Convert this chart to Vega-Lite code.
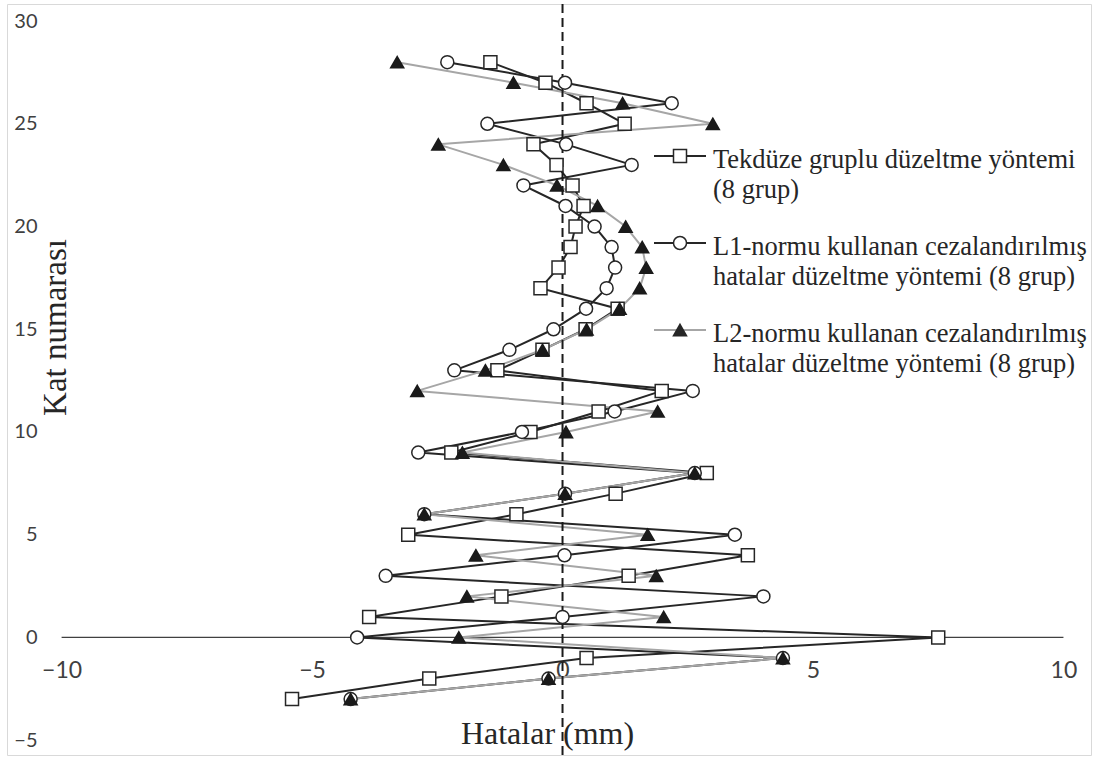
{
  "$schema": "https://vega.github.io/schema/vega-lite/v6.json",
  "width": 1084,
  "height": 751,
  "autosize": {"type": "none"},
  "padding": {"left": 7, "top": 4, "right": 2, "bottom": 5},
  "background": "white",
  "config": {
    "view": {"stroke": "#d9d9d9", "strokeWidth": 1},
    "axis": {"grid": false},
    "legend": {
      "labelFont": "Liberation Serif, Times New Roman, serif", "labelFontSize": 26.5, "labelColor": "#262626", "labelLimit": 600,
      "labelOffset": 6, "labelBaseline": "top", "rowPadding": 12, "padding": 0, "orient": "none",
      "legendX": 646, "legendY": 125, "symbolSize": 2704,
      "symbolBaseFillColor": "white", "symbolBaseStrokeColor": "#262626"
    }
  },
  "data": {"values": [
    {"series": "Tekdüze gruplu düzeltme yöntemi (8 grup)", "y": 28, "x": -1.44},
    {"series": "Tekdüze gruplu düzeltme yöntemi (8 grup)", "y": 27, "x": -0.34},
    {"series": "Tekdüze gruplu düzeltme yöntemi (8 grup)", "y": 26, "x": 0.48},
    {"series": "Tekdüze gruplu düzeltme yöntemi (8 grup)", "y": 25, "x": 1.24},
    {"series": "Tekdüze gruplu düzeltme yöntemi (8 grup)", "y": 24, "x": -0.58},
    {"series": "Tekdüze gruplu düzeltme yöntemi (8 grup)", "y": 23, "x": -0.12},
    {"series": "Tekdüze gruplu düzeltme yöntemi (8 grup)", "y": 22, "x": 0.2},
    {"series": "Tekdüze gruplu düzeltme yöntemi (8 grup)", "y": 21, "x": 0.42},
    {"series": "Tekdüze gruplu düzeltme yöntemi (8 grup)", "y": 20, "x": 0.26},
    {"series": "Tekdüze gruplu düzeltme yöntemi (8 grup)", "y": 19, "x": 0.16},
    {"series": "Tekdüze gruplu düzeltme yöntemi (8 grup)", "y": 18, "x": -0.08},
    {"series": "Tekdüze gruplu düzeltme yöntemi (8 grup)", "y": 17, "x": -0.44},
    {"series": "Tekdüze gruplu düzeltme yöntemi (8 grup)", "y": 16, "x": 1.1},
    {"series": "Tekdüze gruplu düzeltme yöntemi (8 grup)", "y": 15, "x": 0.46},
    {"series": "Tekdüze gruplu düzeltme yöntemi (8 grup)", "y": 14, "x": -0.4},
    {"series": "Tekdüze gruplu düzeltme yöntemi (8 grup)", "y": 13, "x": -1.3},
    {"series": "Tekdüze gruplu düzeltme yöntemi (8 grup)", "y": 12, "x": 1.98},
    {"series": "Tekdüze gruplu düzeltme yöntemi (8 grup)", "y": 11, "x": 0.72},
    {"series": "Tekdüze gruplu düzeltme yöntemi (8 grup)", "y": 10, "x": -0.64},
    {"series": "Tekdüze gruplu düzeltme yöntemi (8 grup)", "y": 9, "x": -2.22},
    {"series": "Tekdüze gruplu düzeltme yöntemi (8 grup)", "y": 8, "x": 2.88},
    {"series": "Tekdüze gruplu düzeltme yöntemi (8 grup)", "y": 7, "x": 1.06},
    {"series": "Tekdüze gruplu düzeltme yöntemi (8 grup)", "y": 6, "x": -0.92},
    {"series": "Tekdüze gruplu düzeltme yöntemi (8 grup)", "y": 5, "x": -3.08},
    {"series": "Tekdüze gruplu düzeltme yöntemi (8 grup)", "y": 4, "x": 3.7},
    {"series": "Tekdüze gruplu düzeltme yöntemi (8 grup)", "y": 3, "x": 1.32},
    {"series": "Tekdüze gruplu düzeltme yöntemi (8 grup)", "y": 2, "x": -1.22},
    {"series": "Tekdüze gruplu düzeltme yöntemi (8 grup)", "y": 1, "x": -3.86},
    {"series": "Tekdüze gruplu düzeltme yöntemi (8 grup)", "y": 0, "x": 7.5},
    {"series": "Tekdüze gruplu düzeltme yöntemi (8 grup)", "y": -1, "x": 0.48},
    {"series": "Tekdüze gruplu düzeltme yöntemi (8 grup)", "y": -2, "x": -2.66},
    {"series": "Tekdüze gruplu düzeltme yöntemi (8 grup)", "y": -3, "x": -5.4},
    {"series": "L1-normu kullanan cezalandırılmış hatalar düzeltme yöntemi (8 grup)", "y": 28, "x": -2.3},
    {"series": "L1-normu kullanan cezalandırılmış hatalar düzeltme yöntemi (8 grup)", "y": 27, "x": 0.05},
    {"series": "L1-normu kullanan cezalandırılmış hatalar düzeltme yöntemi (8 grup)", "y": 26, "x": 2.18},
    {"series": "L1-normu kullanan cezalandırılmış hatalar düzeltme yöntemi (8 grup)", "y": 25, "x": -1.5},
    {"series": "L1-normu kullanan cezalandırılmış hatalar düzeltme yöntemi (8 grup)", "y": 24, "x": 0.07},
    {"series": "L1-normu kullanan cezalandırılmış hatalar düzeltme yöntemi (8 grup)", "y": 23, "x": 1.38},
    {"series": "L1-normu kullanan cezalandırılmış hatalar düzeltme yöntemi (8 grup)", "y": 22, "x": -0.78},
    {"series": "L1-normu kullanan cezalandırılmış hatalar düzeltme yöntemi (8 grup)", "y": 21, "x": 0.06},
    {"series": "L1-normu kullanan cezalandırılmış hatalar düzeltme yöntemi (8 grup)", "y": 20, "x": 0.64},
    {"series": "L1-normu kullanan cezalandırılmış hatalar düzeltme yöntemi (8 grup)", "y": 19, "x": 0.98},
    {"series": "L1-normu kullanan cezalandırılmış hatalar düzeltme yöntemi (8 grup)", "y": 18, "x": 1.05},
    {"series": "L1-normu kullanan cezalandırılmış hatalar düzeltme yöntemi (8 grup)", "y": 17, "x": 0.88},
    {"series": "L1-normu kullanan cezalandırılmış hatalar düzeltme yöntemi (8 grup)", "y": 16, "x": 0.47},
    {"series": "L1-normu kullanan cezalandırılmış hatalar düzeltme yöntemi (8 grup)", "y": 15, "x": -0.18},
    {"series": "L1-normu kullanan cezalandırılmış hatalar düzeltme yöntemi (8 grup)", "y": 14, "x": -1.06},
    {"series": "L1-normu kullanan cezalandırılmış hatalar düzeltme yöntemi (8 grup)", "y": 13, "x": -2.16},
    {"series": "L1-normu kullanan cezalandırılmış hatalar düzeltme yöntemi (8 grup)", "y": 12, "x": 2.6},
    {"series": "L1-normu kullanan cezalandırılmış hatalar düzeltme yöntemi (8 grup)", "y": 11, "x": 1.04},
    {"series": "L1-normu kullanan cezalandırılmış hatalar düzeltme yöntemi (8 grup)", "y": 10, "x": -0.81},
    {"series": "L1-normu kullanan cezalandırılmış hatalar düzeltme yöntemi (8 grup)", "y": 9, "x": -2.88},
    {"series": "L1-normu kullanan cezalandırılmış hatalar düzeltme yöntemi (8 grup)", "y": 8, "x": 2.64},
    {"series": "L1-normu kullanan cezalandırılmış hatalar düzeltme yöntemi (8 grup)", "y": 7, "x": 0.05},
    {"series": "L1-normu kullanan cezalandırılmış hatalar düzeltme yöntemi (8 grup)", "y": 6, "x": -2.76},
    {"series": "L1-normu kullanan cezalandırılmış hatalar düzeltme yöntemi (8 grup)", "y": 5, "x": 3.44},
    {"series": "L1-normu kullanan cezalandırılmış hatalar düzeltme yöntemi (8 grup)", "y": 4, "x": 0.04},
    {"series": "L1-normu kullanan cezalandırılmış hatalar düzeltme yöntemi (8 grup)", "y": 3, "x": -3.53},
    {"series": "L1-normu kullanan cezalandırılmış hatalar düzeltme yöntemi (8 grup)", "y": 2, "x": 4.01},
    {"series": "L1-normu kullanan cezalandırılmış hatalar düzeltme yöntemi (8 grup)", "y": 1, "x": 0.0},
    {"series": "L1-normu kullanan cezalandırılmış hatalar düzeltme yöntemi (8 grup)", "y": 0, "x": -4.1},
    {"series": "L1-normu kullanan cezalandırılmış hatalar düzeltme yöntemi (8 grup)", "y": -1, "x": 4.4},
    {"series": "L1-normu kullanan cezalandırılmış hatalar düzeltme yöntemi (8 grup)", "y": -2, "x": -0.28},
    {"series": "L1-normu kullanan cezalandırılmış hatalar düzeltme yöntemi (8 grup)", "y": -3, "x": -4.23},
    {"series": "L2-normu kullanan cezalandırılmış hatalar düzeltme yöntemi (8 grup)", "y": 28, "x": -3.3},
    {"series": "L2-normu kullanan cezalandırılmış hatalar düzeltme yöntemi (8 grup)", "y": 27, "x": -0.98},
    {"series": "L2-normu kullanan cezalandırılmış hatalar düzeltme yöntemi (8 grup)", "y": 26, "x": 1.2},
    {"series": "L2-normu kullanan cezalandırılmış hatalar düzeltme yöntemi (8 grup)", "y": 25, "x": 3.0},
    {"series": "L2-normu kullanan cezalandırılmış hatalar düzeltme yöntemi (8 grup)", "y": 24, "x": -2.48},
    {"series": "L2-normu kullanan cezalandırılmış hatalar düzeltme yöntemi (8 grup)", "y": 23, "x": -1.18},
    {"series": "L2-normu kullanan cezalandırılmış hatalar düzeltme yöntemi (8 grup)", "y": 22, "x": -0.11},
    {"series": "L2-normu kullanan cezalandırılmış hatalar düzeltme yöntemi (8 grup)", "y": 21, "x": 0.7},
    {"series": "L2-normu kullanan cezalandırılmış hatalar düzeltme yöntemi (8 grup)", "y": 20, "x": 1.26},
    {"series": "L2-normu kullanan cezalandırılmış hatalar düzeltme yöntemi (8 grup)", "y": 19, "x": 1.59},
    {"series": "L2-normu kullanan cezalandırılmış hatalar düzeltme yöntemi (8 grup)", "y": 18, "x": 1.67},
    {"series": "L2-normu kullanan cezalandırılmış hatalar düzeltme yöntemi (8 grup)", "y": 17, "x": 1.54},
    {"series": "L2-normu kullanan cezalandırılmış hatalar düzeltme yöntemi (8 grup)", "y": 16, "x": 1.14},
    {"series": "L2-normu kullanan cezalandırılmış hatalar düzeltme yöntemi (8 grup)", "y": 15, "x": 0.48},
    {"series": "L2-normu kullanan cezalandırılmış hatalar düzeltme yöntemi (8 grup)", "y": 14, "x": -0.4},
    {"series": "L2-normu kullanan cezalandırılmış hatalar düzeltme yöntemi (8 grup)", "y": 13, "x": -1.54},
    {"series": "L2-normu kullanan cezalandırılmış hatalar düzeltme yöntemi (8 grup)", "y": 12, "x": -2.9},
    {"series": "L2-normu kullanan cezalandırılmış hatalar düzeltme yöntemi (8 grup)", "y": 11, "x": 1.9},
    {"series": "L2-normu kullanan cezalandırılmış hatalar düzeltme yöntemi (8 grup)", "y": 10, "x": 0.07},
    {"series": "L2-normu kullanan cezalandırılmış hatalar düzeltme yöntemi (8 grup)", "y": 9, "x": -2.0},
    {"series": "L2-normu kullanan cezalandırılmış hatalar düzeltme yöntemi (8 grup)", "y": 8, "x": 2.64},
    {"series": "L2-normu kullanan cezalandırılmış hatalar düzeltme yöntemi (8 grup)", "y": 7, "x": 0.05},
    {"series": "L2-normu kullanan cezalandırılmış hatalar düzeltme yöntemi (8 grup)", "y": 6, "x": -2.76},
    {"series": "L2-normu kullanan cezalandırılmış hatalar düzeltme yöntemi (8 grup)", "y": 5, "x": 1.7},
    {"series": "L2-normu kullanan cezalandırılmış hatalar düzeltme yöntemi (8 grup)", "y": 4, "x": -1.73},
    {"series": "L2-normu kullanan cezalandırılmış hatalar düzeltme yöntemi (8 grup)", "y": 3, "x": 1.87},
    {"series": "L2-normu kullanan cezalandırılmış hatalar düzeltme yöntemi (8 grup)", "y": 2, "x": -1.91},
    {"series": "L2-normu kullanan cezalandırılmış hatalar düzeltme yöntemi (8 grup)", "y": 1, "x": 2.02},
    {"series": "L2-normu kullanan cezalandırılmış hatalar düzeltme yöntemi (8 grup)", "y": 0, "x": -2.07},
    {"series": "L2-normu kullanan cezalandırılmış hatalar düzeltme yöntemi (8 grup)", "y": -1, "x": 4.4},
    {"series": "L2-normu kullanan cezalandırılmış hatalar düzeltme yöntemi (8 grup)", "y": -2, "x": -0.28},
    {"series": "L2-normu kullanan cezalandırılmış hatalar düzeltme yöntemi (8 grup)", "y": -3, "x": -4.23}
  ]},
  "layer": [
    {
      "data": {"values": [{}]},
      "mark": {"type": "rule", "color": "#404040", "strokeWidth": 1.3},
      "encoding": {
        "x": {"datum": -10, "type": "quantitative"},
        "x2": {"datum": 10},
        "y": {"datum": 0, "type": "quantitative"}
      }
    },
    {
      "mark": {"type": "line", "strokeWidth": 2},
      "encoding": {
        "x": {
          "field": "x", "type": "quantitative",
          "scale": {"domain": [-11.09, 10.55], "nice": false, "zero": false},
          "axis": {
            "orient": "bottom", "values": [-10, -5, 0, 5, 10], "domain": false, "ticks": false, "grid": false,
            "labelFont": "Lato", "labelFontSize": 23, "labelColor": "#404040", "labelPadding": 0,
            "labelFlush": false, "labelOverlap": false, "offset": -96,
            "title": "Hatalar (mm)", "titleFont": "Liberation Serif", "titleFontSize": 32, "titleFontWeight": "normal",
            "titleColor": "#262626", "titleX": 540, "titleY": 84, "titleAlign": "center", "titleBaseline": "alphabetic"
          }
        },
        "y": {
          "field": "y", "type": "quantitative",
          "scale": {"domain": [-5.72, 30.83], "nice": false, "zero": false},
          "axis": {
            "orient": "left", "values": [-5, 0, 5, 10, 15, 20, 25, 30], "domain": false, "ticks": false, "grid": false,
            "labelFont": "Lato", "labelFontSize": 20, "labelColor": "#404040", "labelPadding": 0, "offset": -30,
            "labelFlush": false, "labelOverlap": false,
            "title": "Kat numarası", "titleFont": "Liberation Serif", "titleFontSize": 33, "titleFontWeight": "normal",
            "titleColor": "#262626", "titleAngle": 270, "titleX": 28, "titleY": 323, "titleAlign": "center", "titleBaseline": "alphabetic"
          }
        },
        "order": {"field": "y", "type": "quantitative"},
        "color": {
          "field": "series", "type": "nominal",
          "scale": {
            "domain": ["Tekdüze gruplu düzeltme yöntemi (8 grup)", "L1-normu kullanan cezalandırılmış hatalar düzeltme yöntemi (8 grup)", "L2-normu kullanan cezalandırılmış hatalar düzeltme yöntemi (8 grup)"],
            "range": ["#262626", "#262626", "#a6a6a6"]
          },
          "legend": {
            "title": null, "symbolType": "stroke", "symbolStrokeWidth": 2, "zindex": 1, "rowPadding": 12,
            "labelFont": "Liberation Serif, Times New Roman, serif",
            "labelExpr": "indexof(datum.label, 'Tekdüze') == 0 ? [substring(datum.label, 0, 31), substring(datum.label, 32)] : [substring(datum.label, 0, 33), substring(datum.label, 34)]",
            "encode": {"labels": {"update": {"dy": {"value": -9}, "lineHeight": {"value": 30}, "font": {"value": "Liberation Serif, Times New Roman, serif"}}}}
          }
        }
      }
    },
    {
      "data": {"values": [{}]},
      "mark": {"type": "rule", "color": "#1a1a1a", "strokeWidth": 2, "strokeDash": [9, 5]},
      "encoding": {
        "x": {"datum": 0, "type": "quantitative"}
      }
    },
    {
      "mark": {"type": "point", "filled": true, "size": 2704, "strokeWidth": 1.5, "opacity": 1},
      "encoding": {
        "x": {"field": "x", "type": "quantitative"},
        "y": {"field": "y", "type": "quantitative"},
        "shape": {
          "field": "series", "type": "nominal",
          "sort": ["Tekdüze gruplu düzeltme yöntemi (8 grup)", "L1-normu kullanan cezalandırılmış hatalar düzeltme yöntemi (8 grup)", "L2-normu kullanan cezalandırılmış hatalar düzeltme yöntemi (8 grup)"],
          "scale": {"range": [
            "M-0.25,-0.25H0.25V0.25H-0.25Z",
            "M0.25,0A0.25,0.25,0,1,1,-0.25,0A0.25,0.25,0,1,1,0.25,0Z",
            "M0,-0.2165L0.25,0.2165L-0.25,0.2165ZM-0.027,-0.17H0.027M-0.05,-0.13H0.05M-0.073,-0.09H0.073M-0.096,-0.05H0.096M-0.119,-0.01H0.119M-0.142,0.03H0.142M-0.165,0.07H0.165M-0.189,0.11H0.189M-0.212,0.15H0.212M-0.235,0.19H0.235"
          ]},
          "legend": {
            "title": null, "symbolStrokeWidth": 1.5, "symbolStrokeColor": "#262626", "symbolFillColor": "white",
            "symbolOpacity": 1, "zindex": 2, "labelOpacity": 0, "rowPadding": 5,
            "labelExpr": "indexof(datum.label, 'Tekdüze') == 0 ? [substring(datum.label, 0, 31), substring(datum.label, 32)] : [substring(datum.label, 0, 33), substring(datum.label, 34)]"
          }
        },
        "fill": {
          "field": "series", "type": "nominal",
          "sort": ["Tekdüze gruplu düzeltme yöntemi (8 grup)", "L1-normu kullanan cezalandırılmış hatalar düzeltme yöntemi (8 grup)", "L2-normu kullanan cezalandırılmış hatalar düzeltme yöntemi (8 grup)"],
          "scale": {"range": ["white", "white", "#1a1a1a"]},
          "legend": null
        },
        "stroke": {
          "field": "series", "type": "nominal",
          "sort": ["Tekdüze gruplu düzeltme yöntemi (8 grup)", "L1-normu kullanan cezalandırılmış hatalar düzeltme yöntemi (8 grup)", "L2-normu kullanan cezalandırılmış hatalar düzeltme yöntemi (8 grup)"],
          "scale": {"range": ["#262626", "#262626", "#1a1a1a"]},
          "legend": null
        }
      }
    }
  ]
}
